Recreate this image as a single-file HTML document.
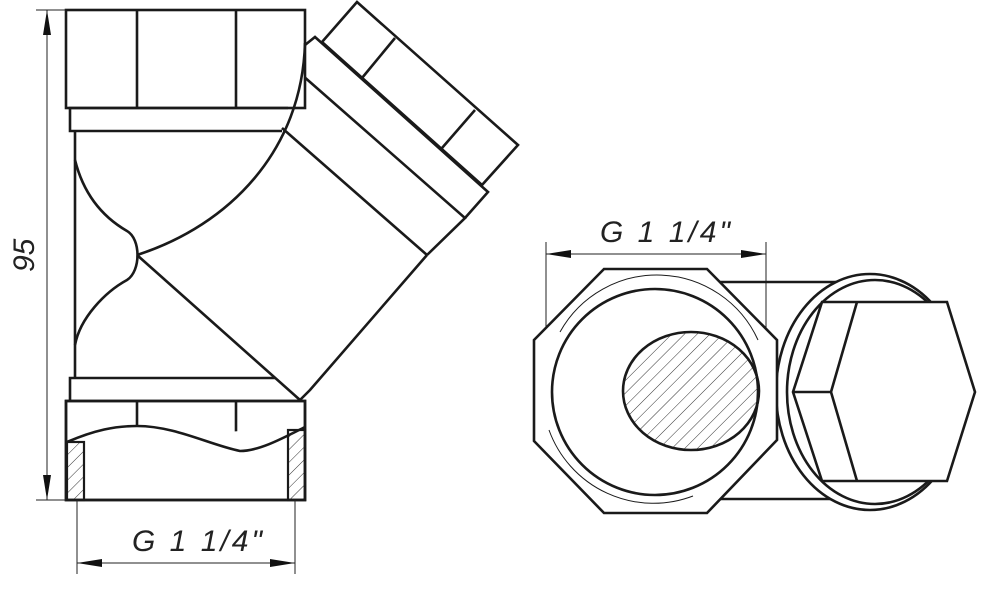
<!DOCTYPE html>
<html><head><meta charset="utf-8"><style>
html,body{margin:0;padding:0;background:#fff;}
svg{display:block;}
text{font-family:"Liberation Sans",sans-serif;font-style:italic;fill:#222;}
</style></head><body>
<svg width="1000" height="603" viewBox="0 0 1000 603" xmlns="http://www.w3.org/2000/svg">
<defs>
<pattern id="h" patternUnits="userSpaceOnUse" width="9" height="9" patternTransform="rotate(45)">
<line x1="0" y1="0" x2="0" y2="9" stroke="#333" stroke-width="1"/>
</pattern>
</defs>
<g fill="none" stroke="#1a1a1a" stroke-width="2.6" stroke-linejoin="miter">
<!-- diagonal cap & rings -->
<polygon points="357,2 518,145 482,185 322,42" fill="#fff"/>
<line x1="395" y1="38" x2="362" y2="78"/>
<line x1="475" y1="110" x2="442" y2="148"/>
<polyline points="305,45 315,37 488,192 465,218"/>
<polyline points="302,75 465,218 427,255"/>
<line x1="282" y1="128" x2="427" y2="255"/>
<polyline points="427,255 310,390 300,400"/>
<!-- top nut -->
<rect x="66" y="10" width="239" height="98" fill="#fff"/>
<line x1="137" y1="10" x2="137" y2="108"/>
<line x1="236" y1="10" x2="236" y2="108"/>
<polyline points="288,108 70,108 70,131 282,131"/>
<!-- big arc -->
<path d="M305,43 C302,150 230,225 137,255"/>
<!-- left body -->
<line x1="75" y1="131" x2="75" y2="378"/>
<path d="M75,160 C85,200 108,220 127,231 C141,239 141,271 127,280 C105,292 80,318 75,345"/>
<line x1="137" y1="255" x2="300" y2="400"/>
<!-- bottom collar & nut -->
<polyline points="275,378 70,378 70,401"/>
<rect x="66" y="401" width="239" height="99" fill="#fff"/>
<line x1="137" y1="401" x2="137" y2="427"/>
<line x1="236" y1="401" x2="236" y2="448"/>
<path d="M67,442 C95,430 115,426 137,426 C175,426 210,445 240,451 C260,451 285,437 305,427" fill="#fff"/>
<rect x="67" y="442" width="17" height="58" fill="url(#h)" stroke-width="2.2"/>
<rect x="288" y="430" width="17" height="70" fill="url(#h)" stroke-width="2.2"/>
<rect x="66" y="401" width="239" height="99"/>
</g>
<!-- dimensions left -->
<g stroke="#222" stroke-width="1" fill="none">
<line x1="36" y1="10" x2="66" y2="10"/>
<line x1="36" y1="500" x2="66" y2="500"/>
<line x1="47" y1="10" x2="47" y2="500"/>
<line x1="77" y1="500" x2="77" y2="574"/>
<line x1="295" y1="500" x2="295" y2="574"/>
<line x1="77" y1="563" x2="295" y2="563"/>
<line x1="546" y1="242" x2="546" y2="392"/>
<line x1="766" y1="242" x2="766" y2="392"/>
<line x1="546" y1="254" x2="766" y2="254"/>
</g>
<g fill="#111">
<polygon points="47,10 43,35 51,35"/>
<polygon points="47,500 43,475 51,475"/>
<polygon points="77,563 102,559 102,567"/>
<polygon points="295,563 270,559 270,567"/>
<polygon points="546,254 571,250 571,258"/>
<polygon points="766,254 741,250 741,258"/>
</g>
<text x="0" y="0" font-size="30" transform="translate(34,272) rotate(-90)">95</text>
<text x="132" y="551" font-size="30" letter-spacing="3">G 1 1/4"</text>
<text x="600" y="242" font-size="30" letter-spacing="3">G 1 1/4"</text>
<!-- right view -->
<g fill="none" stroke="#1a1a1a" stroke-width="2.6">
<line x1="700" y1="282" x2="840" y2="282"/>
<line x1="700" y1="499" x2="840" y2="499"/>
<ellipse cx="870" cy="392" rx="94" ry="118" fill="#fff"/>
<ellipse cx="875" cy="392" rx="88" ry="112" fill="#fff"/>
<polygon points="822,302 947,302 975,392 947,481 822,481 793,392" fill="#fff"/>
<polyline points="857,302 831,392 857,481"/>
<line x1="793" y1="392" x2="831" y2="392"/>
<polygon points="604,269 707,269 777,340 777,440 707,513 604,513 534,441 534,340" fill="#fff"/>
<circle cx="655" cy="392" r="103"/>
<path d="M560,332 A111,111 0 0 1 758,340" stroke-width="1"/>
<path d="M549,430 A111,111 0 0 0 693,496" stroke-width="1"/>
<ellipse cx="691" cy="391" rx="68" ry="59" fill="url(#h)"/>
</g>
</svg>
</body></html>
